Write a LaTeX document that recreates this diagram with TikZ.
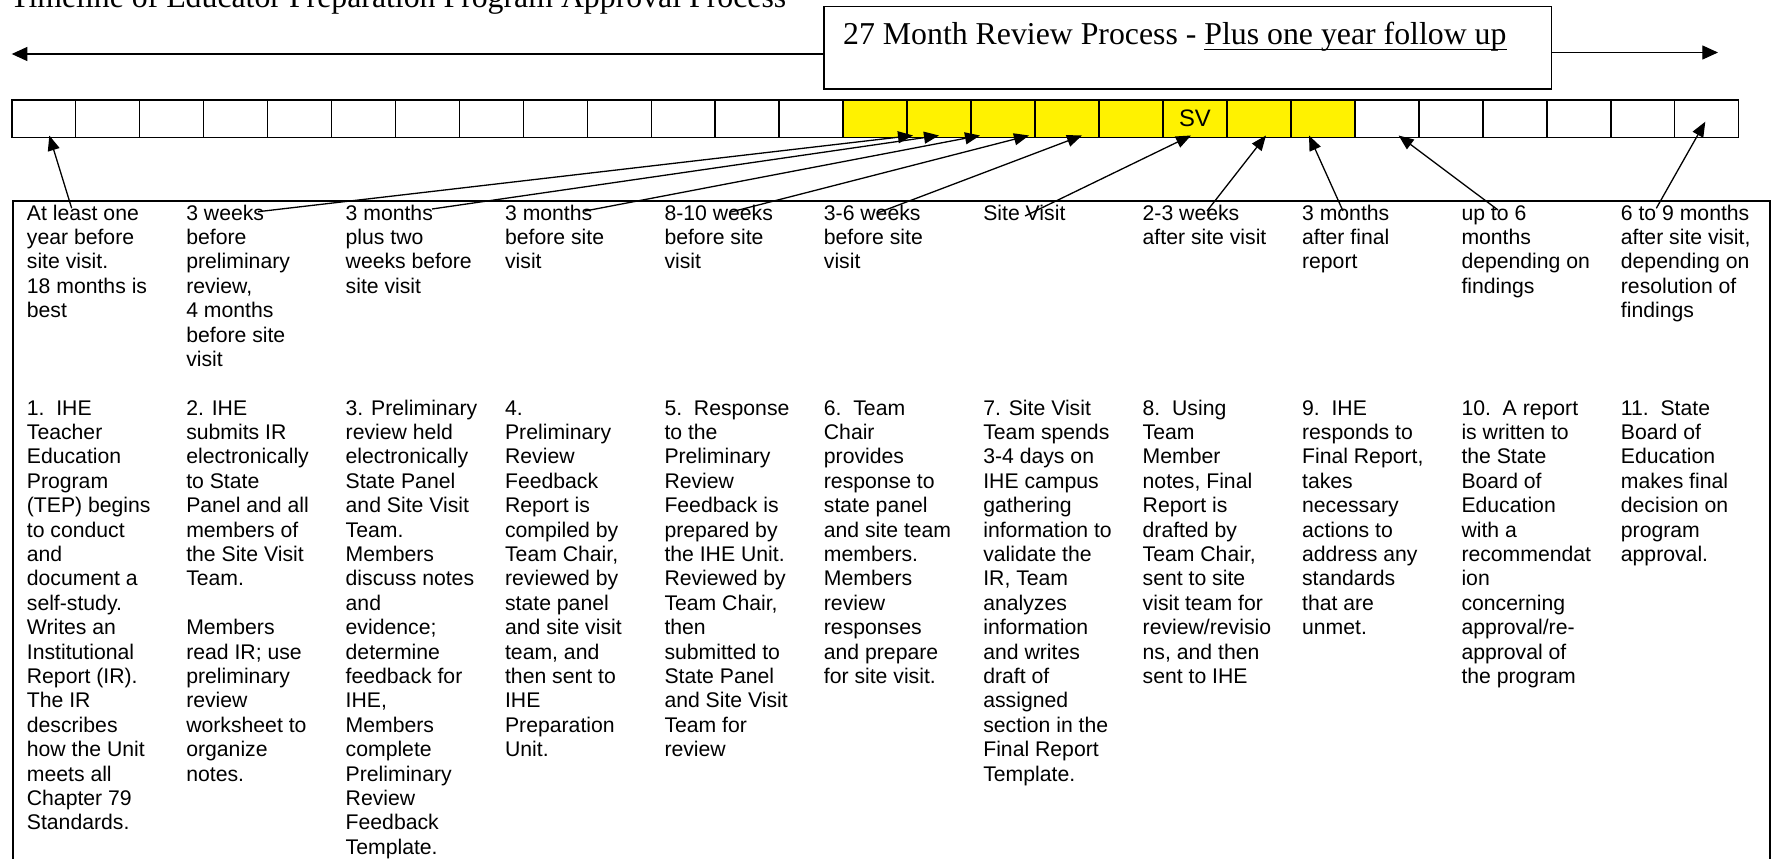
\documentclass[tikz,border=0pt]{standalone}
\usepackage{fontspec}
\setmainfont{Liberation Sans}
\newfontfamily\timesfont{Liberation Serif}
\usetikzlibrary{arrows.meta}
\newcommand\wordul[1]{\setbox0=\hbox{#1}\rlap{\rule[-5.3pt]{\wd0}{1.5pt}}\box0}
\newcommand\coltxt[1]{\parbox[t]{158pt}{\raggedright #1}}
\begin{document}
\begin{tikzpicture}[x=1pt,y=-1pt,
  frame/.style={draw=black, line width=1.6pt, inner sep=0pt, anchor=north west},
  cellbox/.style={draw=black, line width=1.6pt, minimum width=63.96pt, minimum height=37.3pt, anchor=north west, inner sep=0pt, outer sep=0pt},
  arr/.style={-{Triangle[length=15pt,width=12pt]}, line width=1.3pt},
  harr/.style={-{Triangle[length=15.7pt,width=14pt]}, line width=1.3pt},
  coltext/.style={anchor=base west, inner sep=0pt, font=\fontsize{21.2}{24.4}\selectfont},
  serifbig/.style={inner sep=0pt, anchor=base west, font=\timesfont\fontsize{31.8}{36}\selectfont}
]
\useasboundingbox (0,0) rectangle (1773,859);
\clip (0,0) rectangle (1773,859);
\fill[white] (0,0) rectangle (1773,859);

% title (cut off at the top, as in the reference)
\node[serifbig] (title) at (10,8) {Timeline of Educator Preparation Program Approval Process};

% review box
\node[frame, minimum width=727.4pt, minimum height=82.6pt] (rev) at (823.3,5.7) {};
\node[serifbig] (revtext) at (843,45) {27 Month Review Process - \wordul{Plus one year follow up}};
\coordinate (ltip) at (11.7,54);
\coordinate (rtip) at (1718,52.5);
\draw[harr] (rev.west |- ltip) -- (ltip);
\draw[harr] (rev.east |- rtip) -- (rtip);

% timeline bar
\foreach \i in {0,...,12} \node[cellbox, fill=white] (cell\i) at ({11.7+63.96*\i},100) {};
\foreach \i in {13,...,20} \node[cellbox, fill=yellow] (cell\i) at ({11.7+63.96*\i},100) {};
\foreach \i in {21,...,26} \node[cellbox, fill=white] (cell\i) at ({11.7+63.96*\i},100) {};
\node[inner sep=0pt, font=\fontsize{23.8}{28}\selectfont] (sv) at (cell18.center) {SV};

% table frame
\node[frame, minimum width=1756.7pt, minimum height=720pt] (table) at (12.3,200) {};

% timing texts
\node[coltext] (t1) at (26.7,220) {\coltxt{At least one\\year before\\site visit.\\18 months is\\best}};
\node[coltext] (t2) at (186.1,220) {\coltxt{3 weeks\\before\\preliminary\\review,\\4 months\\before site\\visit}};
\node[coltext] (t3) at (345.5,220) {\coltxt{3 months\\plus two\\weeks before\\site visit}};
\node[coltext] (t4) at (504.9,220) {\coltxt{3 months\\before site\\visit}};
\node[coltext] (t5) at (664.3,220) {\coltxt{8-10 weeks\\before site\\visit}};
\node[coltext] (t6) at (823.7,220) {\coltxt{3-6 weeks\\before site\\visit}};
\node[coltext] (t7) at (983.1,220) {\coltxt{Site Visit}};
\node[coltext] (t8) at (1142.5,220) {\coltxt{2-3 weeks\\after site visit}};
\node[coltext] (t9) at (1301.9,220) {\coltxt{3 months\\after final\\report}};
\node[coltext] (t10) at (1461.3,220) {\coltxt{up to 6\\months\\depending on\\findings}};
\node[coltext] (t11) at (1620.7,220) {\coltxt{6 to 9 months\\after site visit,\\depending on\\resolution of\\findings}};

% step texts
\node[coltext] (s1) at (26.7,415) {\coltxt{1.\ \ IHE\\Teacher\\Education\\Program\\(TEP) begins\\to conduct\\and\\document a\\self-study.\\Writes an\\Institutional\\Report (IR).\\The IR\\describes\\how the Unit\\meets all\\Chapter 79\\Standards.}};
\node[coltext] (s2) at (186.1,415) {\coltxt{2. IHE\\submits IR\\electronically\\to State\\Panel and all\\members of\\the Site Visit\\Team.\\\mbox{}\\Members\\read IR; use\\preliminary\\review\\worksheet to\\organize\\notes.}};
\node[coltext] (s3) at (345.5,415) {\coltxt{3. Preliminary\\review held\\electronically\\State Panel\\and Site Visit\\Team.\\Members\\discuss notes\\and\\evidence;\\determine\\feedback for\\IHE,\\Members\\complete\\Preliminary\\Review\\Feedback\\Template.}};
\node[coltext] (s4) at (504.9,415) {\coltxt{4.\\Preliminary\\Review\\Feedback\\Report is\\compiled by\\Team Chair,\\reviewed by\\state panel\\and site visit\\team, and\\then sent to\\IHE\\Preparation\\Unit.}};
\node[coltext] (s5) at (664.3,415) {\coltxt{5.\ \ Response\\to the\\Preliminary\\Review\\Feedback is\\prepared by\\the IHE Unit.\\Reviewed by\\Team Chair,\\then\\submitted to\\State Panel\\and Site Visit\\Team for\\review}};
\node[coltext] (s6) at (823.7,415) {\coltxt{6.\ \ Team\\Chair\\provides\\response to\\state panel\\and site team\\members.\\Members\\review\\responses\\and prepare\\for site visit.}};
\node[coltext] (s7) at (983.1,415) {\coltxt{7. Site Visit\\Team spends\\3-4 days on\\IHE campus\\gathering\\information to\\validate the\\IR, Team\\analyzes\\information\\and writes\\draft of\\assigned\\section in the\\Final Report\\Template.}};
\node[coltext] (s8) at (1142.5,415) {\coltxt{8.\ \ Using\\Team\\Member\\notes, Final\\Report is\\drafted by\\Team Chair,\\sent to site\\visit team for\\review/revisio\\ns, and then\\sent to IHE}};
\node[coltext] (s9) at (1301.9,415) {\coltxt{9.\ \ IHE\\responds to\\Final Report,\\takes\\necessary\\actions to\\address any\\standards\\that are\\unmet.}};
\node[coltext] (s10) at (1461.3,415) {\coltxt{10.\ \ A report\\is written to\\the State\\Board of\\Education\\with a\\recommendat\\ion\\concerning\\approval/re-\\approval of\\the program}};
\node[coltext] (s11) at (1620.7,415) {\coltxt{11.\ \ State\\Board of\\Education\\makes final\\decision on\\program\\approval.}};

% arrow end points
\coordinate (a1s) at (71.7,208.3);  \coordinate (a1e) at (49.3,135.5);
\coordinate (a2s) at (258,211.7);   \coordinate (a2e) at (913,135.5);
\coordinate (a3s) at (432,209);     \coordinate (a3e) at (939,135.5);
\coordinate (a4s) at (585,211);     \coordinate (a4e) at (980,135.5);
\coordinate (a5s) at (731,212);     \coordinate (a5e) at (1029,135.5);
\coordinate (a6s) at (876.7,213.3); \coordinate (a6e) at (1082,135.5);
\coordinate (a7s) at (1025,216);    \coordinate (a7e) at (1191,135.5);
\coordinate (a8s) at (1207,211);    \coordinate (a8e) at (1266,135.5);
\coordinate (a9s) at (1343,211);    \coordinate (a9e) at (1309,135.5);
\coordinate (a10s) at (1498,210);   \coordinate (a10e) at (1398.6,135.5);
\coordinate (a11s) at (1656.3,208.3); \coordinate (a11e) at (1705.3,121.7);
\foreach \k in {1,...,11} \draw[arr] (a\k s) -- (a\k e);
\end{tikzpicture}
\end{document}
